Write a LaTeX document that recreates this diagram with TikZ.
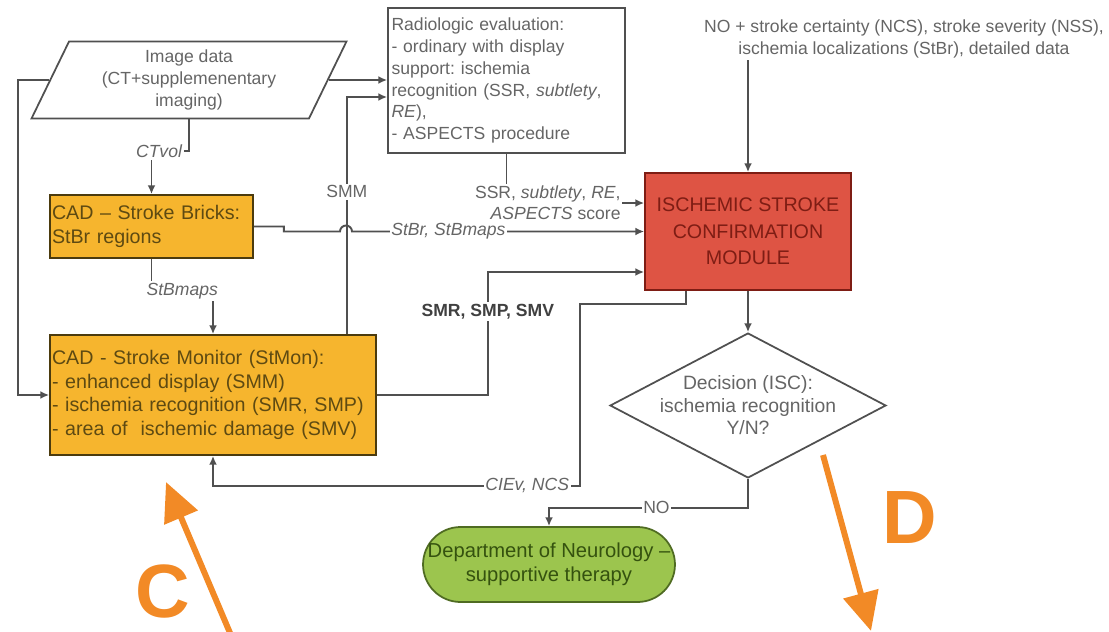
\documentclass[tikz,border=0pt]{standalone}
\usepackage{fontspec}
\setmainfont{Liberation Sans}
\usetikzlibrary{arrows.meta,shapes.geometric}
\frenchspacing

\definecolor{txtgray}{HTML}{656565}
\definecolor{linegray}{HTML}{505050}
\definecolor{cadfill}{HTML}{F6B52E}
\definecolor{cadtext}{HTML}{5E4A12}
\definecolor{iscfill}{HTML}{DE5444}
\definecolor{isctext}{HTML}{7E1D14}
\definecolor{neufill}{HTML}{9CC54E}
\definecolor{neutext}{HTML}{35520F}
\definecolor{neuline}{HTML}{4F6B22}
\definecolor{markorange}{HTML}{F28A26}

\begin{document}
\begin{tikzpicture}[x=0.02cm,y=-0.02cm,
    line/.style={draw=linegray,line width=1.1pt},
    arr/.style={line,-{Latex[length=5pt,width=4.5pt]}},
    lbl/.style={fill=white,inner sep=1pt,text=txtgray,font=\fontsize{10}{12}\selectfont\itshape},
    plainbox/.style={draw=linegray,line width=1pt,text=txtgray,font=\fontsize{10}{12.5}\selectfont},
    cadbox/.style={draw=cadtext!80!black,fill=cadfill,line width=1pt,text=cadtext,align=left,inner sep=0pt,font=\fontsize{11.2}{13.4}\selectfont},
    big/.style={draw=markorange,line width=3.4pt,-{Triangle[length=22pt,width=20pt]}},
    marktext/.style={text=markorange,inner sep=0pt,font=\fontsize{43}{43}\selectfont\bfseries}]
  \useasboundingbox(0,0)rectangle(1109,632);

  % boxes
  \node[plainbox,trapezium,trapezium left angle=62.5,trapezium right angle=117.5,trapezium stretches body,
    minimum width=6.3cm,minimum height=1.54cm,align=center](img)at(189,80)
    {Image data\\(CT+supplemenentary\\imaging)};
  \node[plainbox,minimum width=4.74cm,minimum height=2.9cm,text width=4.6cm,align=left,inner sep=0pt](rad)at(506.5,80.5)
    {Radiologic evaluation:\\- ordinary with display\\support: ischemia\\recognition (SSR, \textit{subtlety},\\\textit{RE}),\\- ASPECTS procedure};
  \node[cadbox,minimum width=4.06cm,minimum height=1.26cm,text width=3.98cm](stbr)at(151.5,226.5)
    {CAD -- Stroke Bricks:\\StBr regions};
  \node[cadbox,minimum width=6.52cm,minimum height=2.4cm,text width=6.44cm](stmon)at(213,395)
    {CAD - Stroke Monitor (StMon):\\- enhanced display (SMM)\\- ischemia recognition (SMR, SMP)\\- area of\ \ ischemic damage (SMV)};
  \node[draw=isctext,fill=iscfill,line width=1pt,text=isctext,align=center,minimum width=4.12cm,minimum height=2.34cm,
    font=\fontsize{11.2}{15}\selectfont](isc)at(748,231.5)
    {ISCHEMIC STROKE\\CONFIRMATION\\MODULE};
  \node[plainbox,diamond,minimum width=5.52cm,minimum height=2.9cm,inner sep=0pt,
    label={[text=txtgray,align=center,font=\fontsize{11}{12.8}\selectfont]center:{Decision (ISC):\\ischemia recognition\\Y/N?}}](dec)at(748,405.5){};
  \node[draw=neuline,fill=neufill,line width=1pt,rounded corners=0.75cm,text=neutext,align=center,inner sep=0pt,
    minimum width=5.04cm,minimum height=1.5cm,font=\fontsize{11.5}{13.5}\selectfont](neuro)at(549,564.5)
    {Department of Neurology --\\supportive therapy};
  \node[text=txtgray,align=center,inner sep=1pt,font=\fontsize{10}{12.5}\selectfont](note)at(904,39)
    {NO + stroke certainty (NCS), stroke severity (NSS),\\ischemia localizations (StBr), detailed data};

  % connectors
  \draw[arr](img.right side)--(img.right side -| rad.west);
  \draw[arr](img.left side)--++(-31,0)|-(stmon.west);
  \draw[arr](img.south)--++(0,32)-|node[lbl,pos=0.4]{CTvol}(stbr.north);
  \draw[arr](stbr.south)--++(0,32)-|node[lbl,pos=0.25]{StBmaps}(stmon.north);
  \draw[arr]([xshift=-0.6cm]stmon.north east)|-node[lbl,font=\fontsize{10}{12}\selectfont,pos=0.3]{SMM}([yshift=-0.33cm]rad.west);
  \draw[arr](stbr.east)--++(30,0)--++(0,5)--(340,231.5)arc[start angle=180,end angle=360,radius=6]
    --node[lbl,pos=0.33]{StBr, StBmaps}(isc.west);
  \draw[arr](rad.south)|-node[lbl,font=\fontsize{10}{12}\selectfont,align=right,pos=0.65]{SSR, \textit{subtlety}, \textit{RE},\\\textit{ASPECTS} score}([yshift=0.57cm]isc.west);
  \draw[arr](stmon.east)--++(111,0)|-node[lbl,font=\fontsize{10}{12}\selectfont\bfseries,text=black!75,pos=0.34]{SMR, SMP, SMV}([yshift=-0.81cm]isc.west);
  \draw[arr]([xshift=0.84cm]isc.south west)--++(0,13)--++(-106,0)--++(0,182)-|node[lbl,pos=0.072]{CIEv, NCS}(stmon.south);
  \draw[arr](isc.north |- note.south)--(isc.north);
  \draw[arr](isc.south)--(dec.north);
  \draw[arr](dec.south)--++(0,29)-|node[lbl,font=\fontsize{10}{12}\selectfont,pos=0.23]{NO}(neuro.north);

  % orange markers
  \coordinate(c0)at(233,640);\coordinate(c1)at(166,482);
  \draw[big](c0)--(c1);
  \node[marktext](cmark)at(163,591){C};
  \coordinate(d0)at(823,455);\coordinate(d1)at(871,631);
  \draw[big](d0)--(d1);
  \node[marktext](dmark)at(910,518){D};
\end{tikzpicture}
\end{document}
